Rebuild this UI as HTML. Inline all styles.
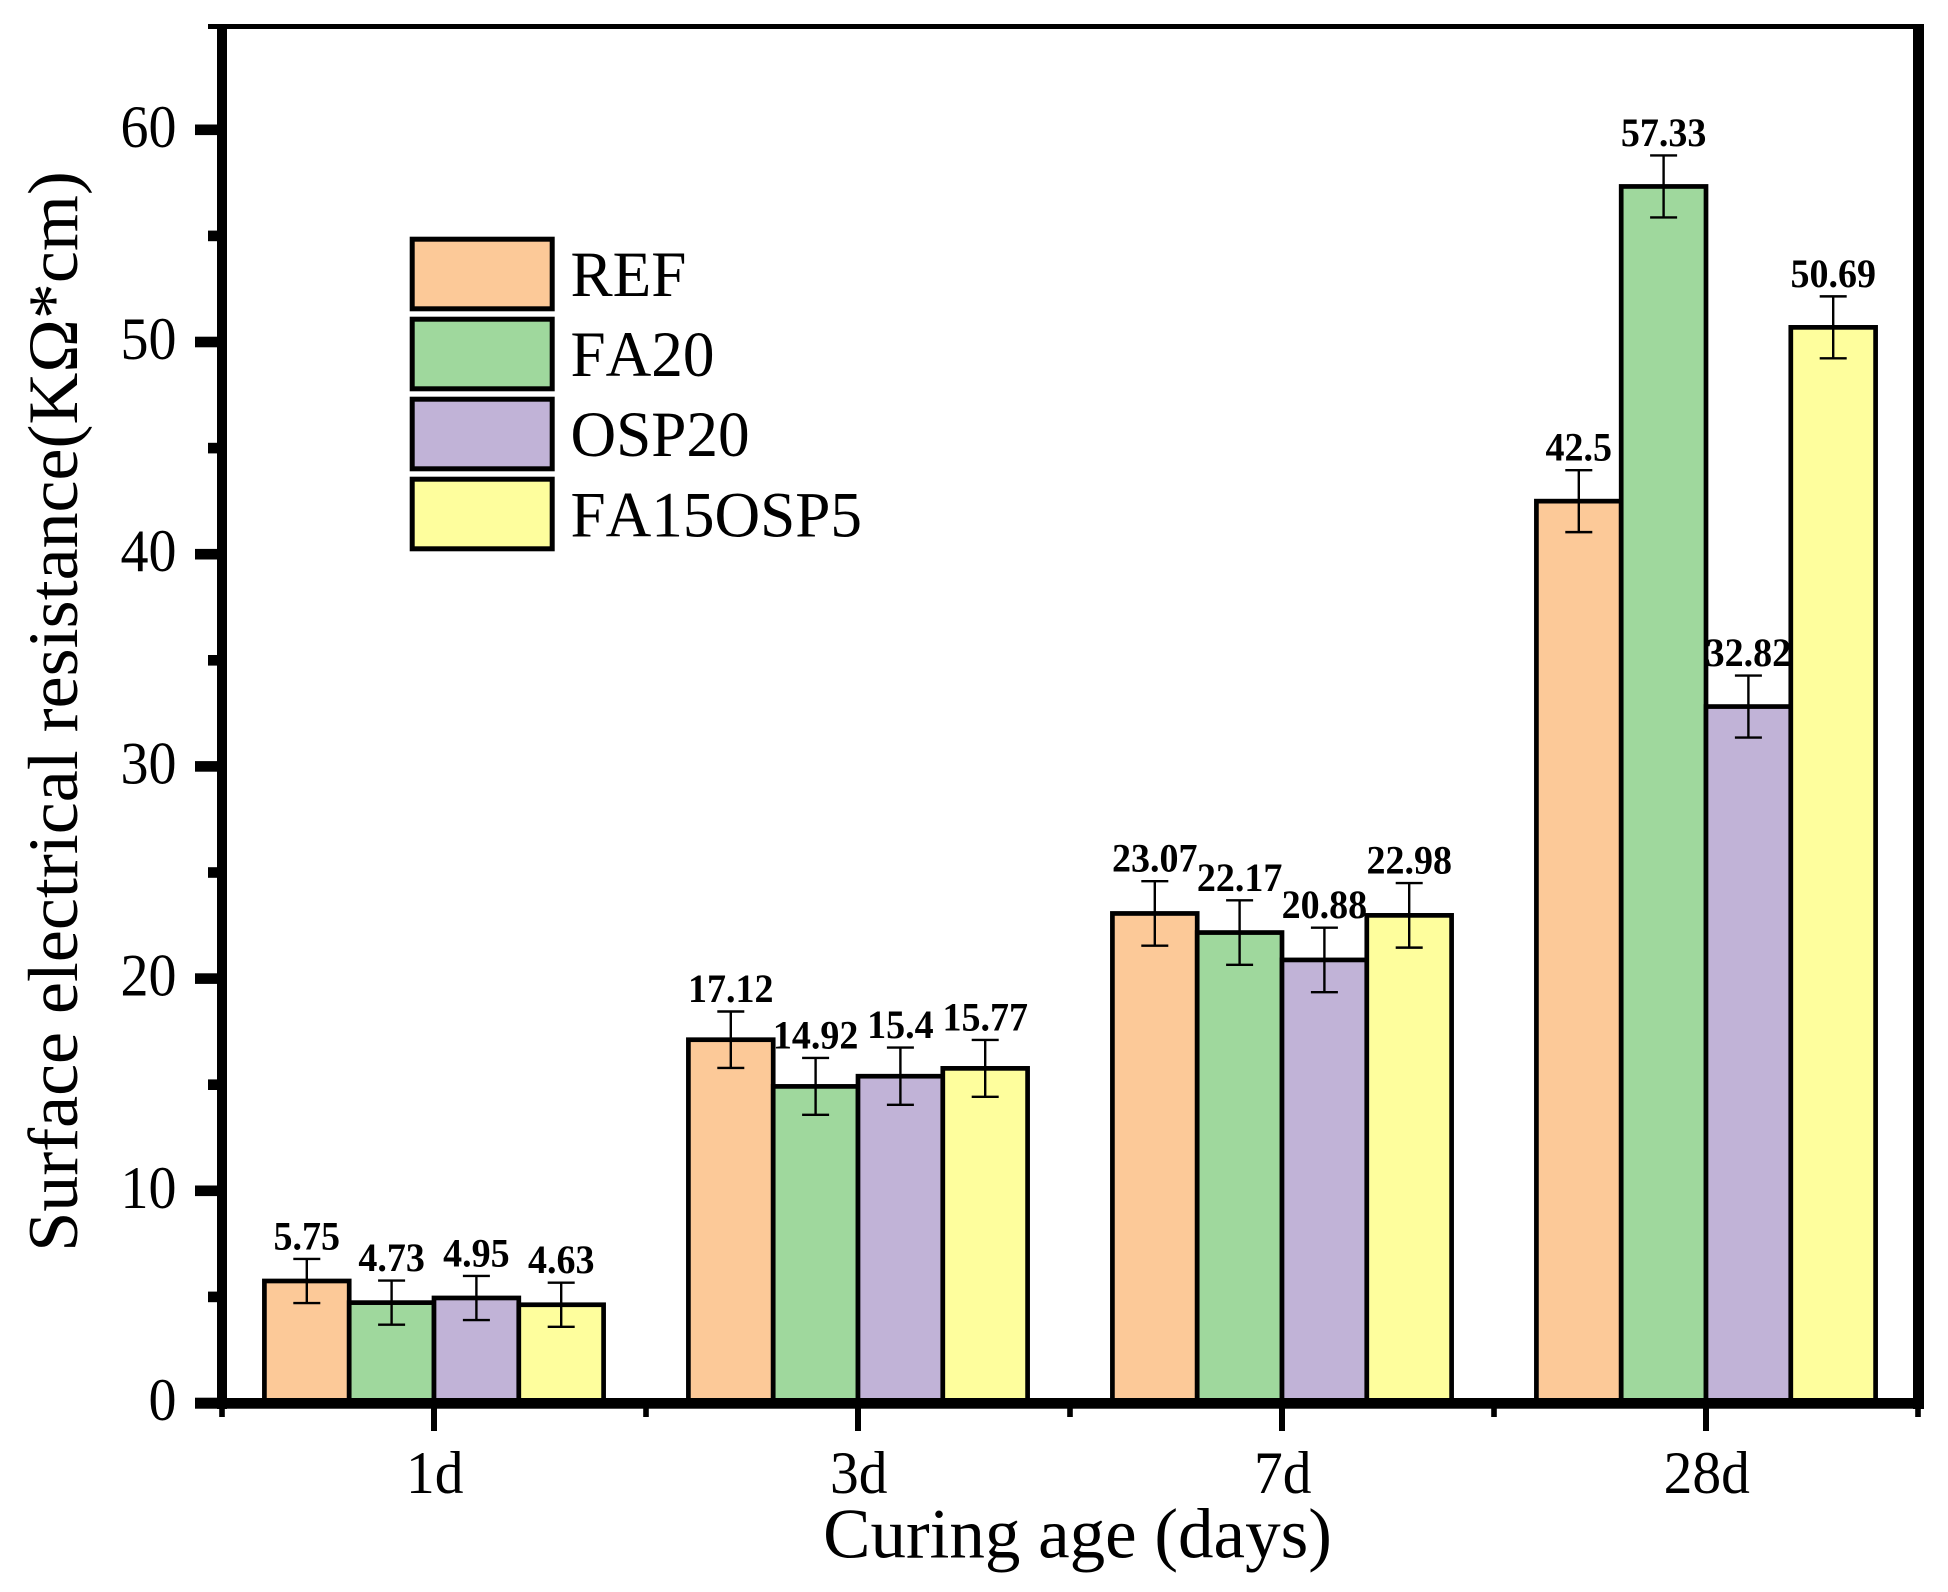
<!DOCTYPE html>
<html lang="en">
<head>
<meta charset="utf-8">
<title>Surface electrical resistance by curing age</title>
<style>
html,body{margin:0;padding:0;background:#fff;}
svg{display:block;}
text{font-family:"Liberation Serif",serif;fill:#000;font-kerning:none;}
</style>
</head>
<body>
<svg id="chart" xmlns="http://www.w3.org/2000/svg" width="1948" height="1592" viewBox="0 0 1948 1592">
  <rect x="0" y="0" width="1948" height="1592" fill="#fff"/>
  <g id="bars"></g>
  <g id="errors"></g>
  <g id="labels"></g>
  <g id="axes">
    <rect x="217" y="24" width="10" height="1385" fill="#000"/>
    <rect x="1913" y="24" width="11" height="1385" fill="#000"/>
    <rect x="208" y="24" width="1716" height="5" fill="#000"/>
    <rect x="195" y="1398" width="1729" height="10.7" fill="#000"/>
  </g>
  <g id="ticks"></g>
  <g id="legend"></g>
  <text x="1077.5" y="1557.5" font-size="71" text-anchor="middle">Curing age (days)</text>
  <text transform="translate(77 711.5) rotate(-90) scale(1.014,1)" x="0" y="0" font-size="71" text-anchor="middle">Surface electrical resistance(KΩ*cm)</text>
</svg>
<script>
const categories = ['1d', '3d', '7d', '28d'];
const seriesNames = ['REF', 'FA20', 'OSP20', 'FA15OSP5'];
const seriesColors = ['#FCC998', '#9FD89D', '#C1B3D7', '#FEFE9D'];
const refValues = [5.75, 17.12, 23.07, 42.5];
const fa20Values = [4.73, 14.92, 22.17, 57.33];
const osp20Values = [4.95, 15.4, 20.88, 32.82];
const fa15osp5Values = [4.63, 15.77, 22.98, 50.69];
const refErrors = [1.04, 1.33, 1.52, 1.46];
const fa20Errors = [1.04, 1.34, 1.52, 1.46];
const osp20Errors = [1.04, 1.35, 1.52, 1.46];
const fa15osp5Errors = [1.04, 1.34, 1.52, 1.46];
const valueLabels = [
  ['5.75', '17.12', '23.07', '42.5'],
  ['4.73', '14.92', '22.17', '57.33'],
  ['4.95', '15.4', '20.88', '32.82'],
  ['4.63', '15.77', '22.98', '50.69']
];
const yMajorTicks = [0, 10, 20, 30, 40, 50, 60];
const yMinorTicks = [5, 15, 25, 35, 45, 55];

const allValues = [refValues, fa20Values, osp20Values, fa15osp5Values];
const allErrors = [refErrors, fa20Errors, osp20Errors, fa15osp5Errors];

const NS = 'http://www.w3.org/2000/svg';
function yScale(v) { return 1403 - v * 21.22; }
function xCenter(c) { return 434 + c * 424; }
function barLeft(c, s) { return xCenter(c) - 169.6 + s * 84.8; }
function make(tag, attrs, parent) {
  const n = document.createElementNS(NS, tag);
  for (const k in attrs) n.setAttribute(k, attrs[k]);
  parent.appendChild(n);
  return n;
}
function placed(x, y, sy) { return 'translate(' + x + ' ' + y + ') scale(1,' + sy + ')'; }

const barsG = document.getElementById('bars');
const errG = document.getElementById('errors');
const labelsG = document.getElementById('labels');
const ticksG = document.getElementById('ticks');
const legendG = document.getElementById('legend');

allValues.forEach(function (vals, s) {
  vals.forEach(function (v, c) {
    const left = barLeft(c, s);
    const top = yScale(v);
    const bar = make('rect', { x: left, y: top, width: 84.8, height: yScale(0) - top, fill: seriesColors[s], stroke: '#000', 'stroke-width': 4.7 }, barsG);
    
    
  });
});

allValues.forEach(function (vals, s) {
  vals.forEach(function (v, c) {
    const mid = barLeft(c, s) + 42.4;
    const e = allErrors[s][c];
    const hi = yScale(v + e);
    const lo = yScale(v - e);
    const err = make('path', { d: 'M' + (mid - 13.5) + ' ' + hi + 'H' + (mid + 13.5) + 'M' + mid + ' ' + hi + 'V' + lo + 'M' + (mid - 13.5) + ' ' + lo + 'H' + (mid + 13.5), fill: 'none', stroke: '#000', 'stroke-width': 2.4 }, errG);
    
    
    const label = make('text', { transform: placed(mid, hi - 9.5, 1.07), 'font-size': 38, 'font-weight': 'bold', 'text-anchor': 'middle' }, labelsG);
    label.textContent = valueLabels[s][c];
    
    
  });
});

yMajorTicks.forEach(function (t) {
  const y = yScale(t);
  const tick = make('rect', { x: 195, y: y - 5.3, width: 23, height: 10.6, fill: '#000' }, ticksG);
  
  
  const label = make('text', { transform: placed(176.5, y + 17, 1.08), 'font-size': 56, 'text-anchor': 'end' }, ticksG);
  label.textContent = String(t);
  
  
});
yMinorTicks.forEach(function (t) {
  const y = yScale(t);
  const tick = make('rect', { x: 208, y: y - 5.3, width: 10, height: 10.6, fill: '#000' }, ticksG);
  
  
});

categories.forEach(function (cat, c) {
  const x = xCenter(c);
  const tick = make('rect', { x: x - 3, y: 1408, width: 6, height: 23, fill: '#000' }, ticksG);
  
  
  const label = make('text', { transform: placed(x + 0.7, 1493, 1.05), 'font-size': 57.5, 'text-anchor': 'middle' }, ticksG);
  label.textContent = cat;
  
  
});
for (let c = 0; c <= categories.length; c++) {
  const x = xCenter(c - 0.5);
  const tick = make('rect', { x: x - 2.8, y: 1408, width: 5.6, height: 9, fill: '#000' }, ticksG);
  
  
}

seriesNames.forEach(function (name, s) {
  const swatch = make('rect', { x: 412.2, y: 239.2 + s * 80, width: 140, height: 69.6, fill: seriesColors[s], stroke: '#000', 'stroke-width': 5 }, legendG);
  
  
  const label = make('text', { transform: placed(570.5, 296 + s * 80.1, 1.03), 'font-size': 63.2 }, legendG);
  label.textContent = name;
  
  
});
</script>
</body>
</html>
